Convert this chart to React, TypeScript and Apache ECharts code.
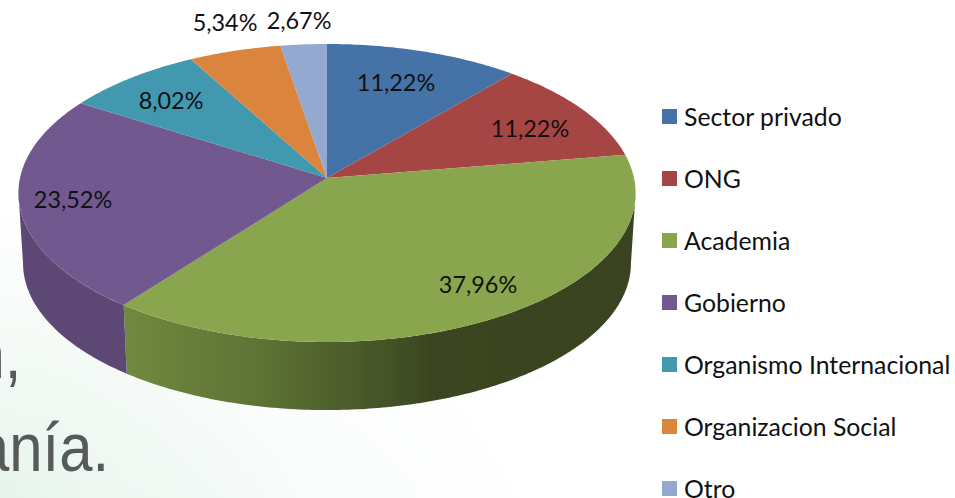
import React, { useEffect, useRef } from "react";
import * as echarts from "echarts";

const categories = ["Sector privado", "ONG", "Academia", "Gobierno", "Organismo Internacional", "Organizacion Social", "Otro"];
const shares = [11.22, 11.22, 37.96, 23.52, 8.02, 5.34, 2.67];
const colors = ["#4572A7", "#A64644", "#89A54E", "#71588F", "#4198AF", "#DB843D", "#93A9CF"];
const labelCenters = [[396, 82], [530, 128], [478, 284], [73, 199], [171, 100], [225, 22], [299, 20]];

const APEX_X = 327, APEX_Y = 178;
const DX = 307, DY = 147.5, PERSP = -0.1007;
const WALL_SCALE = 0.985, WALL_DROP = 70.5;
const WALL_FROM = 95.8, WALL_TO = 264.2;
const FONT = "Lato";

const total = shares.reduce((a, b) => a + b, 0);
const toRad = (d: number) => (d * Math.PI) / 180;
function project(deg: number): [number, number] {
  const u = Math.sin(toRad(deg));
  const v = -Math.cos(toRad(deg));
  const w = 1 + PERSP * v;
  return [(DX * u) / w, (DY * v) / w];
}
const topPt = (deg: number): number[] => {
  const [x, y] = project(deg);
  return [APEX_X + x, APEX_Y + y];
};
const lowPt = (deg: number): number[] => {
  const [x, y] = project(deg);
  return [APEX_X + x * WALL_SCALE, APEX_Y + y * WALL_SCALE + WALL_DROP];
};
function arc(from: number, to: number, fn: (d: number) => number[]) {
  const n = Math.max(2, Math.ceil((to - from) / 0.75));
  const out: number[][] = [];
  for (let i = 0; i <= n; i++) out.push(fn(from + ((to - from) * i) / n));
  return out;
}
const wallFill = (i: number) =>
  i === 2
    ? new echarts.graphic.LinearGradient(124, 0, 636, 0, [
        { offset: 0, color: "#71893F" },
        { offset: 0.25, color: "#5F7435" },
        { offset: 0.45, color: "#4B5B2A" },
        { offset: 0.6, color: "#3B4621" },
        { offset: 1, color: "#39431F" },
      ], true)
    : "#5C4775";

const renderSlice = (i: number) => (_p: any, api: any) => {
  const val = api.value(0);
  const before = shares.slice(0, i).reduce((a, b) => a + b, 0);
  const a0 = (before / total) * 360;
  const a1 = ((before + val) / total) * 360;
  const children: any[] = [];
  const w0 = Math.max(a0, WALL_FROM);
  const w1 = Math.min(a1, WALL_TO);
  if (w1 > w0) {
    children.push({
      type: "polygon",
      shape: { points: [...arc(w0, w1, topPt), ...arc(w0, w1, lowPt).reverse()] },
      style: { fill: wallFill(i) },
    });
  }
  children.push({
    type: "polygon",
    shape: { points: [[APEX_X, APEX_Y], ...arc(a0, a1, topPt)] },
    style: { fill: colors[i] },
  });
  children.push({
    type: "text",
    x: labelCenters[i][0],
    y: labelCenters[i][1],
    style: {
      text: val.toFixed(2).replace(".", ",") + "%",
      fill: "#111111",
      font: `23.4px ${FONT}`,
      align: "center",
      verticalAlign: "middle",
    },
  });
  return { type: "group", children };
};

export default function App() {
  const ref = useRef<HTMLDivElement>(null);
  useEffect(() => {
    const chart = echarts.init(ref.current!, undefined, { renderer: "svg" });
    chart.setOption({
      animation: false,
      backgroundColor: "#ffffff",
      graphic: [
        {
          type: "rect",
          z: 0,
          shape: { x: 0, y: 200, width: 400, height: 298 },
          style: {
            fill: new echarts.graphic.RadialGradient(0, 498, 295, [
              { offset: 0, color: "#E2F2E7" },
              { offset: 0.3, color: "#EFF8F2" },
              { offset: 0.7, color: "#F9FCFA" },
              { offset: 1, color: "#FFFFFF" },
            ], true),
          },
        },
        {
          type: "rect",
          z: 0,
          shape: { x: 0, y: 300, width: 700, height: 198 },
          style: {
            fill: new echarts.graphic.RadialGradient(200, 640, 450, [
              { offset: 0, color: "rgba(220,240,230,0.55)" },
              { offset: 1, color: "rgba(255,255,255,0)" },
            ], true),
          },
        },
        {
          type: "text", z: 1, x: -28.5, y: 321, scaleX: 0.88,
          style: { text: "n,", fill: "#58595B", font: "68px 'Liberation Sans'" },
        },
        {
          type: "text", z: 1, x: -24, y: 414, scaleX: 0.88,
          style: { text: "anía.", fill: "#58595B", font: "68px 'Liberation Sans'" },
        },
      ],
      legend: {
        orient: "vertical",
        left: 662,
        top: 104,
        height: 420,
        padding: 0,
        itemWidth: 15,
        itemHeight: 15,
        itemGap: 37,
        icon: "rect",
        data: categories,
        textStyle: { fontFamily: FONT, fontSize: 24.8, color: "#111111", padding: [0, 0, 0, 2] },
      },
      series: categories.map((name, i) => ({
        type: "custom",
        name,
        coordinateSystem: "none",
        itemStyle: { color: colors[i] },
        data: [[shares[i]]],
        renderItem: renderSlice(i),
      })),
    });
    return () => chart.dispose();
  }, []);
  return <div ref={ref} style={{ position: "absolute", left: 0, top: 0, width: 955, height: 498 }} />;
}
